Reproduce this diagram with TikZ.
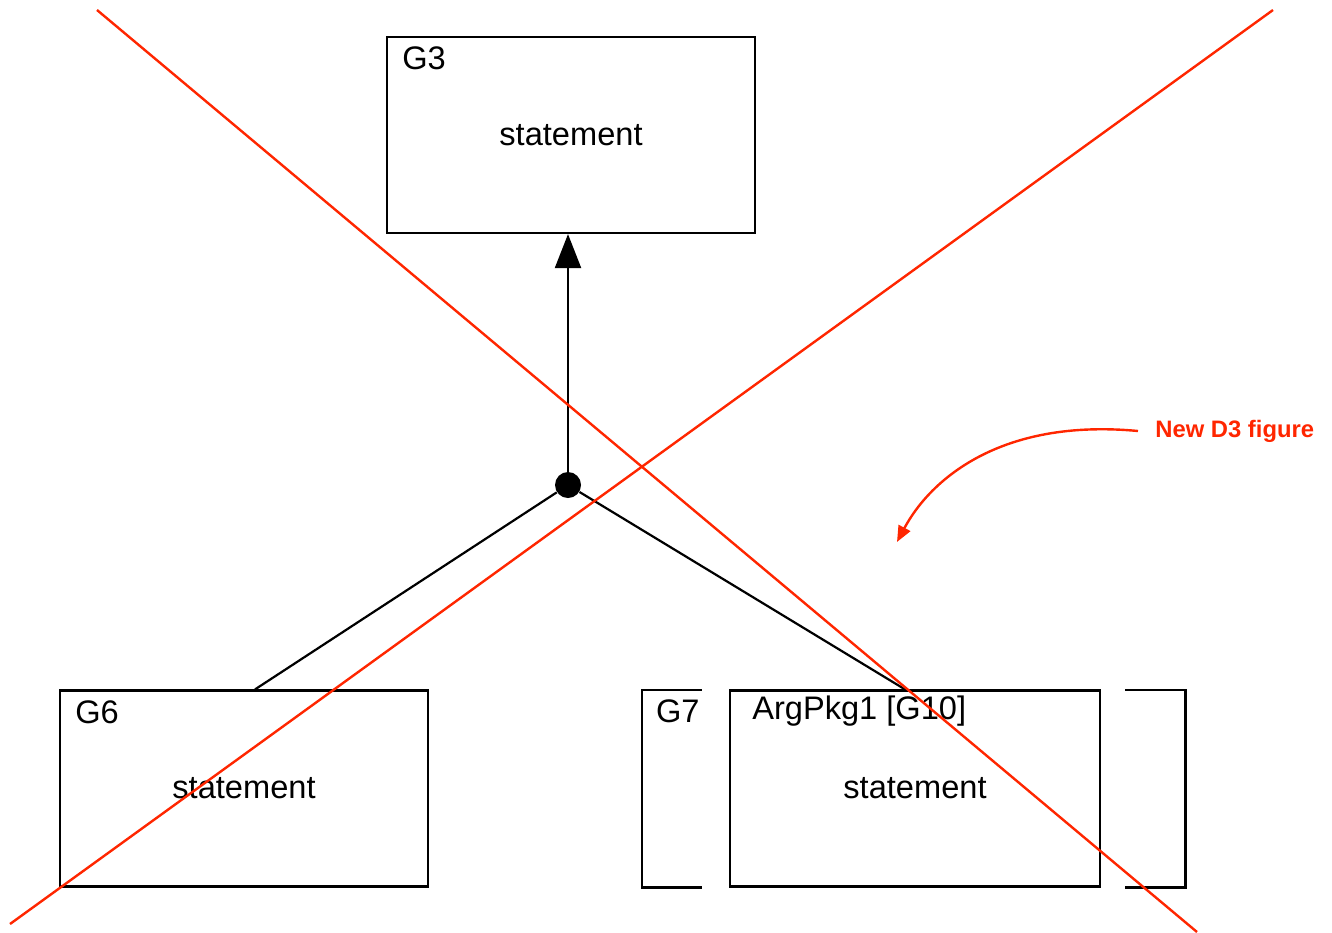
\documentclass[tikz,border=0pt]{standalone}
\usepackage{fontspec}
\setmainfont{Liberation Sans}
\usetikzlibrary{positioning,calc,arrows.meta}
\definecolor{markred}{RGB}{255,38,0}

\begin{document}
\begin{tikzpicture}[x=0.5pt,y=-0.5pt,
    box/.style={draw, line width=1.1pt, minimum width=184pt, minimum height=98pt,
        font=\fontsize{16.3}{19}\selectfont},
    tag/.style={anchor=west, inner sep=0pt, font=\fontsize{16.3}{19}\selectfont},
    link/.style={line width=1.1pt},
    cross/.style={markred, line width=1.2pt},]
\useasboundingbox (0,0) rectangle (1332,932);

    % goal boxes
    \node[box] (G3) at (571,135) {statement};
    \node[box] (G6) at (244,788.5) {statement};
    \node[box, minimum width=185pt] (G10) at (915,788.5) {statement};
    \node[minimum width=271.5pt, minimum height=98.5pt, inner sep=0pt] (G7) at (913.5,788.5) {};

    \node[tag] (G3tag) at ($(G3.north west)+(16,22)$) {G3};
    \node[tag] (G6tag) at ($(G6.north west)+(16,23)$) {G6};
    \node[tag] (G7tag) at ($(G7.north west)+(14,22)$) {G7};
    \node[tag] (G10tag) at ($(G10.north west)+(23,22)$) {ArgPkg1 [G10]};

    % brackets of G7
    \draw[link] ($(G7.north west)+(60,0)$) -| (G7.south west) -- +(60,0);
    \draw[link] ($(G7.north east)+(-60,0)$) -| (G7.south east) -- +(-60,0);

    % support
    \node[circle, fill, minimum size=13pt, inner sep=0pt] (join) at (568,485) {};
    \draw[link, -{Triangle[length=17pt,width=13pt]}] (join) -- (join |- G3.south);
    \draw[link] (join) -- ($(G6.north)+(11,0)$);
    \draw[link] (join) -- ($(G10.north)+(-10,0)$);

    % crossed out
    \draw[cross] (97,10) -- (1197,932);
    \draw[cross] (1273,10) -- (10,924);

    \node[anchor=west, text=markred, inner xsep=8.5pt, inner ysep=0pt,
        font=\fontsize{11.9}{14}\selectfont\bfseries] (note) at (1138,431) {New D3 figure};
    \coordinate (target) at (897,542);
    \draw[cross, -{Triangle[length=8pt,width=6.5pt]}] (note.west) .. controls (1000,418) and (930,480) .. (target);
\end{tikzpicture}
\end{document}
